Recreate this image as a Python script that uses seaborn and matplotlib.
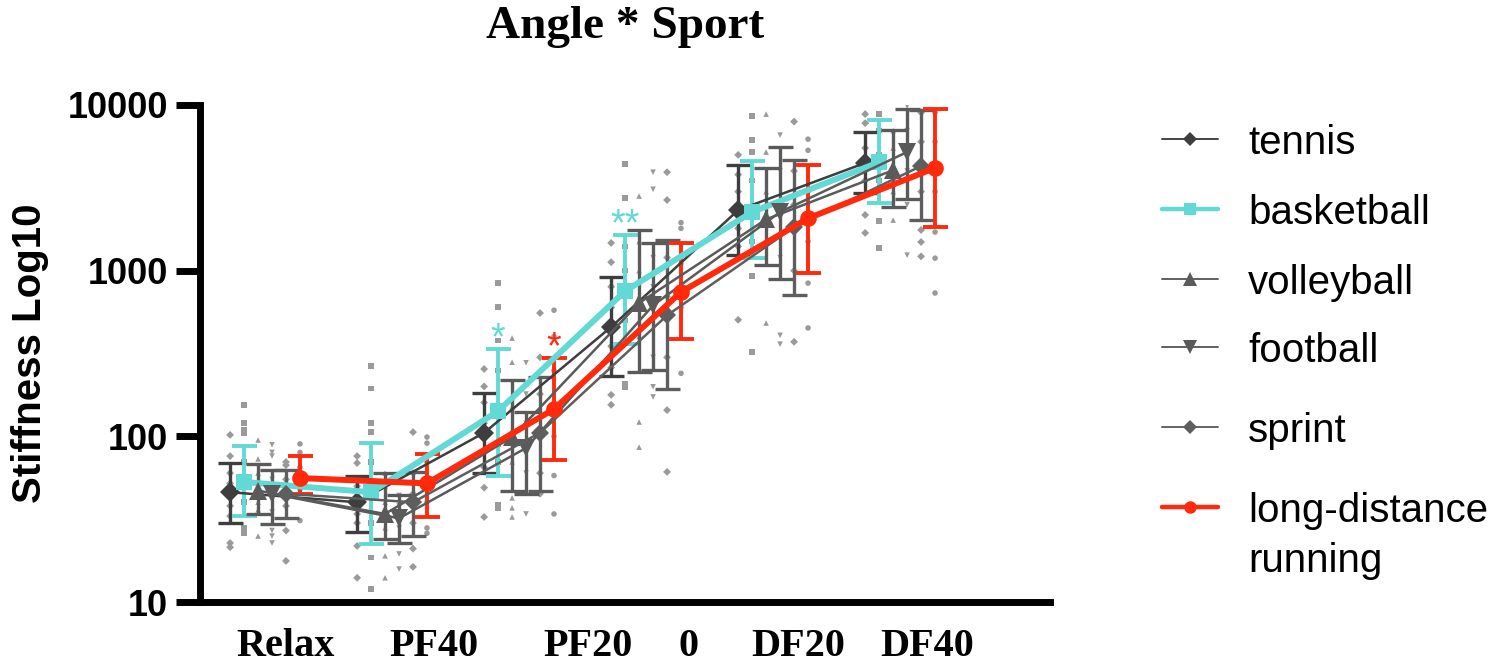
import numpy as np
import pandas as pd
import matplotlib
matplotlib.use("Agg")
import matplotlib.pyplot as plt
from matplotlib.lines import Line2D
import seaborn as sns

angles = ["Relax", "PF40", "PF20", "0", "DF20", "DF40"]
sports = ["tennis", "basketball", "volleyball", "football", "sprint", "long-distance\nrunning"]

# group means
tennis_mean = [46, 40, 105, 457, 2320, 4470]
basketball_mean = [53, 46, 142, 753, 2260, 4520]
volleyball_mean = [47, 34, 99, 638, 2040, 4040]
football_mean = [45, 32, 85, 617, 2260, 5200]
sprint_mean = [45, 40, 105, 537, 1830, 4280]
long_mean = [56, 52, 146, 743, 2070, 4170]

# error bar ends
tennis_hi = [69, 58, 182, 910, 4340, 6860]
tennis_lo = [30, 26.5, 60, 231, 1240, 2940]
basketball_hi = [87, 91, 336, 1640, 4570, 8100]
basketball_lo = [33, 22.4, 58, 360, 1190, 2570]
volleyball_hi = [68, 60, 219, 1760, 4170, 7050]
volleyball_lo = [34, 24, 47, 244, 1080, 2420]
football_hi = [63, 44, 140, 1470, 5570, 9440]
football_lo = [29.5, 22.7, 45, 251, 890, 2700]
sprint_hi = [63, 61, 228, 1530, 4640, 9330]
sprint_lo = [32, 25, 47, 193, 713, 2020]
long_hi = [76, 78, 295, 1470, 4340, 9440]
long_lo = [45, 32.5, 72, 386, 968, 1830]

# individual subjects
tennis_pts = [
    [102, 76, 60, 52, 38, 33, 22.7, 21.4],
    [76, 69, 50, 34, 30, 21.8, 14],
    [255, 200, 160, 120, 80, 65, 49, 32.6],
    [1470, 1125, 800, 600, 350, 260, 178, 155],
    [5000, 3800, 3000, 1800, 1400, 505],
    [8810, 7770, 5500, 3500, 2170, 1690],
]
basketball_pts = [
    [155, 120, 109, 105, 70, 40, 28, 26],
    [266, 195, 120, 106, 70, 30, 18.6, 12],
    [841, 603, 380, 250, 90, 70, 38.5, 37],
    [4400, 2740, 1400, 1000, 500, 209, 199],
    [8570, 6170, 5200, 3500, 1500, 927, 323],
    [8810, 7000, 5000, 3500, 2000, 1370],
]
volleyball_pts = [
    [95, 73, 60, 40, 36, 25],
    [60, 50, 40, 28, 19, 14],
    [392, 280, 150, 70, 42.5, 37, 32.6],
    [2820, 1500, 1000, 400, 122, 86],
    [8810, 5200, 3000, 1500, 483],
    [7000, 5500, 3000, 2020],
]
football_pts = [
    [89, 80, 76, 55, 35, 27, 25, 22.7],
    [44, 38, 28, 19.5, 15.8],
    [278, 180, 120, 60, 34],
    [3930, 3100, 1200, 800, 300, 199, 173],
    [6580, 4000, 2500, 1200, 407, 360],
    [9840, 7000, 4000, 2500, 1240],
]
sprint_pts = [
    [70, 67, 55, 38, 27, 17.7],
    [106, 60, 45, 30, 21, 16.3],
    [555, 300, 180, 60, 45],
    [3930, 2670, 1200, 700, 300, 144, 61],
    [7940, 4000, 2500, 1000, 372],
    [9000, 6000, 3000, 1760, 1490, 1220],
]
long_pts = [
    [90, 80, 65, 48, 31],
    [99, 91, 70, 40, 28, 26],
    [577, 400, 250, 100, 58, 34],
    [1950, 1800, 1100, 600, 240],
    [6220, 5330, 3000, 1500, 841, 451],
    [9000, 6000, 3000, 1710, 1190, 733],
]

# significance marks: (sport, angle, text)
stars = [("basketball", "PF20", "*"), ("long-distance\nrunning", "PF20", "*"),
         ("basketball", "0", "**")]

means = [tennis_mean, basketball_mean, volleyball_mean, football_mean, sprint_mean, long_mean]
his = [tennis_hi, basketball_hi, volleyball_hi, football_hi, sprint_hi, long_hi]
los = [tennis_lo, basketball_lo, volleyball_lo, football_lo, sprint_lo, long_lo]
pts = [tennis_pts, basketball_pts, volleyball_pts, football_pts, sprint_pts, long_pts]

colors = ["#3e3e3e", "#62d9d4", "#5a5a5a", "#5a5a5a", "#5e5e5e", "#ff2a0c"]
markers = ["D", "s", "^", "v", "D", "o"]
msizes = [10, 11, 12.5, 12.5, 9.5, 12]
lwidths = [1.8, 4.3, 1.8, 1.8, 1.8, 4.3]
dodge = 0.11

rows, prow = [], []
for k, s in enumerate(sports):
    for i, a in enumerate(angles):
        pos = i + (k - 2.5) * dodge
        rows.append(dict(sport=s, angle=a, pos=pos, mean=means[k][i], lo=los[k][i], hi=his[k][i]))
        for v in pts[k][i]:
            prow.append(dict(sport=s, angle=a, pos=pos, value=v))
df = pd.DataFrame(rows)
pdf = pd.DataFrame(prow)

sns.set_style("ticks")
plt.rcParams["font.family"] = ["Liberation Sans", "DejaVu Sans"]
plt.rcParams.update({"text.color": "black", "axes.labelcolor": "black",
                     "xtick.color": "black", "ytick.color": "black"})

fig = plt.figure(figsize=(14.88, 6.64), dpi=100)
ax = fig.add_axes([200 / 1488, 62 / 664, 850 / 1488, 497 / 664])

sns.scatterplot(data=pdf, x="pos", y="value", hue="sport", style="sport",
                markers=dict(zip(sports, markers)), palette=["#9a9a9a"] * 6,
                s=16, linewidth=0, legend=False, ax=ax, zorder=1)

for k, s in enumerate(sports):
    sub = df[df.sport == s]
    w = 2.4 if lwidths[k] < 3 else 2.8
    ax.errorbar(sub["pos"], sub["mean"],
                yerr=[sub["mean"] - sub["lo"], sub["hi"] - sub["mean"]],
                fmt="none", ecolor=colors[k], elinewidth=w,
                capsize=9, capthick=w, zorder=2 + k * 0.1)
for k, s in enumerate(sports):
    sub = df[df.sport == s]
    sns.lineplot(data=sub, x="pos", y="mean", color=colors[k], lw=lwidths[k],
                 marker=markers[k], markersize=msizes[k], markeredgewidth=0,
                 estimator=None, sort=False, ax=ax, zorder=3 + k * 0.1)

for s, a, txt in stars:
    r = df[(df.sport == s) & (df.angle == a)].iloc[0]
    ax.text(r["pos"], r["hi"], txt, color=colors[sports.index(s)], fontsize=27,
            ha="center", va="baseline")

ax.set_yscale("log")
ax.set_ylim(10, 10000)
ax.set_xlim(-0.512, 6.18)
ax.set_yticks([10, 100, 1000, 10000])
ax.set_yticklabels(["10", "100", "1000", "10000"], fontsize=26, fontweight="bold")
ax.yaxis.set_minor_locator(matplotlib.ticker.NullLocator())
ax.tick_params(axis="y", length=17, width=5, pad=6, color="black")

label_pos = [0.165, 1.33, 2.54, 3.33, 4.2, 5.21]
ax.set_xticks(label_pos)
ax.set_xticklabels(angles, family="Liberation Serif", fontsize=29, fontweight="bold")
ax.tick_params(axis="x", length=0, pad=19)
ax.set_xlabel("")
ax.set_ylabel("Stiffness Log10", fontsize=29, fontweight="bold", labelpad=13)

for side in ["top", "right"]:
    ax.spines[side].set_visible(False)
for side in ["left", "bottom"]:
    ax.spines[side].set_linewidth(5)
    ax.spines[side].set_color("black")
    ax.spines[side].set_capstyle("projecting")

fig.text(625 / 1488, 1 - 27 / 664, "Angle * Sport", family="Liberation Serif",
         fontsize=34, fontweight="bold", ha="center", va="center")

# legend keys drawn in figure pixels
key_rows = [139, 209, 279, 347, 427, 507]
for k, s in enumerate(sports):
    yk = 1 - key_rows[k] / 664
    key = Line2D([1162 / 1488, 1190 / 1488, 1218 / 1488], [yk, yk, yk],
                 transform=fig.transFigure, color=colors[k], lw=lwidths[k] * 0.75,
                 marker=markers[k], markevery=[1], markersize=msizes[k] * 0.75,
                 markeredgewidth=0, solid_capstyle="round")
    fig.add_artist(key)
    for j, part in enumerate(s.split("\n")):
        fig.text(1248 / 1488, yk - j * 50 / 664, part, fontsize=29,
                 ha="left", va="center_baseline")

fig.savefig("out.png", dpi=100)
